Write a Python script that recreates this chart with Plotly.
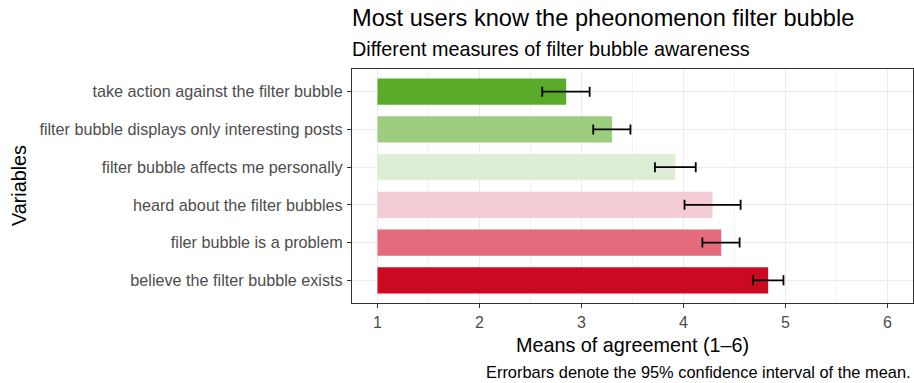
import plotly.graph_objects as go

# Survey items, listed bottom to top
variables = [
    "believe the filter bubble exists",
    "filer bubble is a problem",
    "heard about the filter bubbles",
    "filter bubble affects me personally",
    "filter bubble displays only interesting posts",
    "take action against the filter bubble",
]
means = [4.83, 4.37, 4.285, 3.92, 3.30, 2.85]
ci_lower = [4.68, 4.185, 4.01, 3.72, 3.115, 2.615]
ci_upper = [4.98, 4.55, 4.56, 4.12, 3.48, 3.08]
bar_colors = ["#CB0A21", "#E36B7B", "#F3CDD3", "#DEEED6", "#9CCD7E", "#5AAB2A"]

scale_min = 1
x_ticks = [1, 2, 3, 4, 5, 6]

fig = go.Figure()

# Bars start at the bottom of the 1-6 scale
fig.add_trace(go.Bar(
    y=variables,
    x=[m - scale_min for m in means],
    base=scale_min,
    orientation="h",
    width=0.7,
    marker=dict(color=bar_colors, line=dict(width=0)),
    hoverinfo="skip",
    showlegend=False,
))

# 95% confidence intervals around each mean
fig.add_trace(go.Scatter(
    y=variables,
    x=means,
    mode="markers",
    marker=dict(size=1, color="rgba(0,0,0,0)"),
    error_x=dict(
        type="data",
        symmetric=False,
        array=[u - m for u, m in zip(ci_upper, means)],
        arrayminus=[m - l for m, l in zip(means, ci_lower)],
        color="black",
        thickness=1.8,
        width=5,
    ),
    hoverinfo="skip",
    showlegend=False,
))

font_family = "Liberation Sans, Arial, sans-serif"

fig.update_layout(
    width=914,
    height=383,
    margin=dict(l=352, r=1, t=69, b=80),
    paper_bgcolor="white",
    plot_bgcolor="white",
    font=dict(family=font_family, color="#4D4D4D", size=16),
    bargap=0.3,
    xaxis=dict(
        range=[0.75, 6.25],
        tickvals=x_ticks,
        ticktext=[str(t) for t in x_ticks],
        ticks="outside",
        ticklen=4,
        tickwidth=1,
        tickcolor="#333333",
        tickfont=dict(size=16, color="#4D4D4D"),
        ticklabelstandoff=1,
        showgrid=True,
        gridcolor="#EBEBEB",
        gridwidth=1.4,
        minor=dict(dtick=0.5, tick0=0.5, showgrid=True, gridcolor="#F2F2F2", gridwidth=0.8),
        showline=True,
        linecolor="#333333",
        linewidth=1.2,
        mirror=True,
        zeroline=False,
        fixedrange=True,
    ),
    yaxis=dict(
        type="category",
        categoryorder="array",
        categoryarray=variables,
        range=[-0.6, 5.6],
        ticks="outside",
        ticklen=4,
        tickwidth=1,
        tickcolor="#333333",
        tickfont=dict(size=16.2, color="#4D4D4D"),
        ticklabelstandoff=1,
        showgrid=True,
        gridcolor="#EBEBEB",
        gridwidth=1.4,
        showline=True,
        linecolor="#333333",
        linewidth=1.2,
        mirror=True,
        zeroline=False,
        fixedrange=True,
    ),
    annotations=[
        dict(text="Most users know the pheonomenon filter bubble",
             xref="paper", yref="paper", x=0, y=1, xshift=-2, yshift=36,
             xanchor="left", yanchor="bottom", showarrow=False,
             font=dict(size=23.6, color="black", family=font_family)),
        dict(text="Different measures of filter bubble awareness",
             xref="paper", yref="paper", x=0, y=1, xshift=-2, yshift=7,
             xanchor="left", yanchor="bottom", showarrow=False,
             font=dict(size=19.8, color="black", family=font_family)),
        dict(text="Means of agreement (1\u20136)",
             xref="paper", yref="paper", x=0.5, y=0, yshift=-29,
             xanchor="center", yanchor="top", showarrow=False,
             font=dict(size=19.8, color="black", family=font_family)),
        dict(text="Variables",
             xref="paper", yref="paper", x=0, y=0.5, xshift=-352 + 6,
             xanchor="left", yanchor="middle", textangle=-90, showarrow=False,
             font=dict(size=19.8, color="black", family=font_family)),
        dict(text="Errorbars denote the 95% confidence interval of the mean.",
             xref="paper", yref="paper", x=1, y=0, yshift=-58,
             xanchor="right", yanchor="top", showarrow=False,
             font=dict(size=16.4, color="black", family=font_family)),
    ],
)

fig.write_html("out.html")
